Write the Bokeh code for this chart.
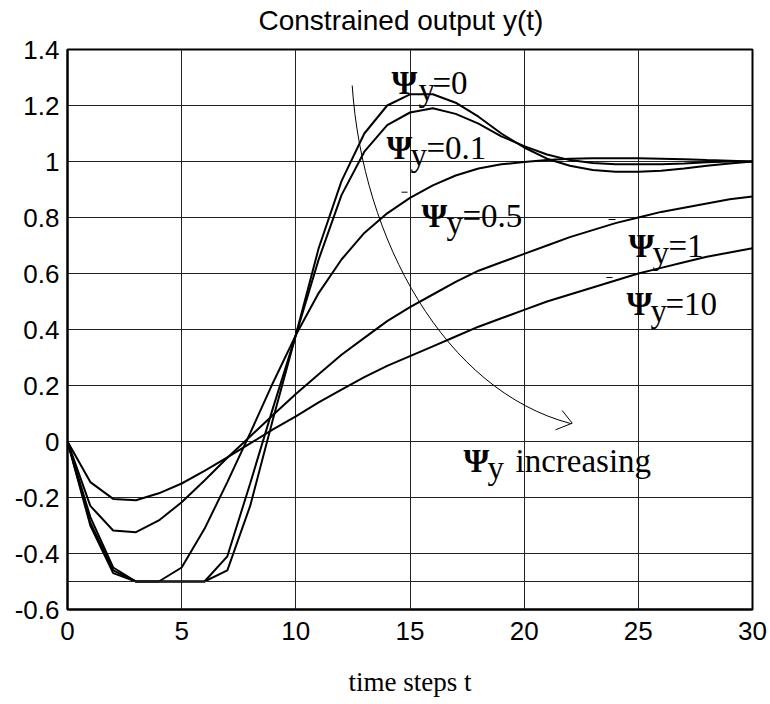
from bokeh.plotting import figure
from bokeh.models import Label, Span, FixedTicker, Title
from bokeh.embed import file_html
from bokeh.resources import INLINE

# ---------------- data ----------------
t_steps = list(range(0, 31))
psi_0 = [0, -0.30, -0.47, -0.50, -0.50, -0.50, -0.50, -0.41, -0.15, 0.12, 0.38, 0.69, 0.93, 1.10, 1.20,
         1.24, 1.24, 1.21, 1.16, 1.10, 1.05, 1.01, 0.985, 0.97, 0.963, 0.963, 0.967, 0.975, 0.985, 0.993, 1.0]
psi_01 = [0, -0.29, -0.46, -0.50, -0.50, -0.50, -0.50, -0.46, -0.23, 0.08, 0.38, 0.65, 0.88, 1.035, 1.13,
          1.175, 1.19, 1.17, 1.135, 1.09, 1.055, 1.025, 1.005, 0.995, 0.99, 0.99, 0.99, 0.993, 0.997, 1.0, 1.0]
psi_05 = [0, -0.27, -0.45, -0.50, -0.50, -0.45, -0.312, -0.145, 0.03, 0.21, 0.38, 0.53, 0.65, 0.745, 0.815,
          0.87, 0.915, 0.95, 0.975, 0.99, 0.998, 1.005, 1.01, 1.012, 1.012, 1.012, 1.01, 1.008, 1.005, 1.003, 1.0]
psi_1 = [0, -0.23, -0.318, -0.324, -0.282, -0.217, -0.139, -0.058, 0.018, 0.095, 0.17, 0.24, 0.31, 0.37, 0.43,
         0.48, 0.525, 0.57, 0.61, 0.64, 0.67, 0.70, 0.73, 0.755, 0.78, 0.80, 0.82, 0.835, 0.85, 0.865, 0.875]
psi_10 = [0, -0.145, -0.205, -0.21, -0.185, -0.15, -0.105, -0.057, -0.007, 0.043, 0.09, 0.14, 0.185, 0.23, 0.27,
          0.305, 0.34, 0.375, 0.41, 0.44, 0.47, 0.50, 0.525, 0.55, 0.575, 0.60, 0.62, 0.64, 0.66, 0.675, 0.69]
series = [psi_0, psi_01, psi_05, psi_1, psi_10]
series_labels = ["0", "0.1", "0.5", "1", "10"]
constraint = -0.5

x_ticks = [0, 5, 10, 15, 20, 25, 30]
y_ticks = [-0.6, -0.4, -0.2, 0.0, 0.2, 0.4, 0.6, 0.8, 1.0, 1.2, 1.4]
y_tick_labels = ["-0.6", "-0.4", "-0.2", "0", "0.2", "0.4", "0.6", "0.8", "1", "1.2", "1.4"]

title_text = "Constrained output y(t)"
xlabel_text = "time steps t"

# ---------------- layout helpers (pixel -> data) ----------------
FL, FR, FT, FB = 67, 752, 49, 609
X0, X1, Y0, Y1 = 0, 30, -0.6, 1.4


def dx(px):
    return X0 + (px - FL) * (X1 - X0) / (FR - FL)


def dy(py):
    return Y1 - (py - FT) * (Y1 - Y0) / (FB - FT)


p = figure(width=770, height=704, x_range=(X0, X1), y_range=(Y0, Y1),
           output_backend="svg", toolbar_location=None, title=None,
           min_border_left=FL, min_border_right=770 - FR,
           min_border_top=FT, min_border_bottom=704 - FB)

# spacer (innermost) then the real title (outer), so the title sits higher
p.add_layout(Title(text=" ", text_font_size="8px", standoff=0), "above")
p.add_layout(Title(text=title_text, align="left", offset=191, vertical_align="top",
                   text_font="Liberation Sans", text_font_size="28px", text_font_style="normal",
                   text_color="black", standoff=2), "above")

p.outline_line_color = "black"
p.outline_line_width = 2
p.background_fill_color = "white"
p.border_fill_color = "white"

for ax in (p.xaxis[0], p.yaxis[0]):
    ax.axis_line_width = 2
    ax.axis_line_color = "black"
    ax.major_tick_out = 0
    ax.major_tick_in = 0
    ax.minor_tick_out = 0
    ax.minor_tick_in = 0
    ax.major_label_text_font = "Liberation Sans"
    ax.major_label_text_font_size = "26px"
    ax.major_label_text_color = "black"

p.xaxis.ticker = FixedTicker(ticks=x_ticks)
p.yaxis.ticker = FixedTicker(ticks=y_ticks)
p.yaxis.major_label_overrides = {v: s for v, s in zip(y_ticks, y_tick_labels)}
p.xaxis.major_label_standoff = 12
p.yaxis.major_label_standoff = 8

p.xaxis.axis_label = xlabel_text
p.xaxis.axis_label_text_font = "Liberation Serif"
p.xaxis.axis_label_text_font_size = "27px"
p.xaxis.axis_label_text_font_style = "normal"
p.xaxis.axis_label_text_color = "black"
p.xaxis.axis_label_standoff = 24

p.xgrid.grid_line_color = "#222222"
p.ygrid.grid_line_color = "#222222"
p.xgrid.grid_line_width = 1
p.ygrid.grid_line_width = 1

p.add_layout(Span(location=constraint, dimension="width", line_color="#222222", line_width=1))

for ys in series:
    p.line(t_steps, ys, line_color="black", line_width=2)

# "Psi_y increasing" arrow (thin curve)
p.bezier(x0=[dx(351.7)], y0=[dy(85)], x1=[dx(570)], y1=[dy(423)],
         cx0=[dx(362)], cy0=[dy(240)], cx1=[dx(445)], cy1=[dy(390)],
         line_color="black", line_width=1)
p.segment(x0=[dx(571.7), dx(571.7)], y0=[dy(422.7), dy(422.7)],
          x1=[dx(561.7), dx(555)], y1=[dy(410), dy(429.3)],
          line_color="black", line_width=1)

# small leader dashes
p.segment(x0=[dx(401), dx(608), dx(606)], y0=[dy(191.7), dy(219), dy(277)],
          x1=[dx(407), dx(615), dx(612)], y1=[dy(191.7), dy(219), dy(277)],
          line_color="black", line_width=1)

FS = "33px"
SUB = 7


def psi_label(x_psi, x_y, x_rest, base, rest):
    p.add_layout(Label(x=dx(x_psi), y=dy(base), text="\u03a8", text_font="Liberation Serif",
                       text_font_size=FS, text_font_style="bold", text_baseline="alphabetic",
                       text_align="left", text_color="black"))
    p.add_layout(Label(x=dx(x_y), y=dy(base + SUB), text="y", text_font="Liberation Serif",
                       text_font_size=FS, text_baseline="alphabetic", text_align="left", text_color="black"))
    p.add_layout(Label(x=dx(x_rest), y=dy(base), text=rest, text_font="Liberation Serif",
                       text_font_size=FS, text_baseline="alphabetic", text_align="left", text_color="black"))


psi_label(391, 418, 432, 82, "=" + series_labels[0])
psi_label(386, 410, 426, 147, "=" + series_labels[1])
psi_label(421, 446, 462, 215, "=" + series_labels[2])
psi_label(628, 652, 668, 245, "=" + series_labels[3])
psi_label(626, 650, 665, 303, "=" + series_labels[4])
psi_label(463, 487, 515, 460, "increasing")

open("out.html", "w").write(file_html(p, INLINE))
